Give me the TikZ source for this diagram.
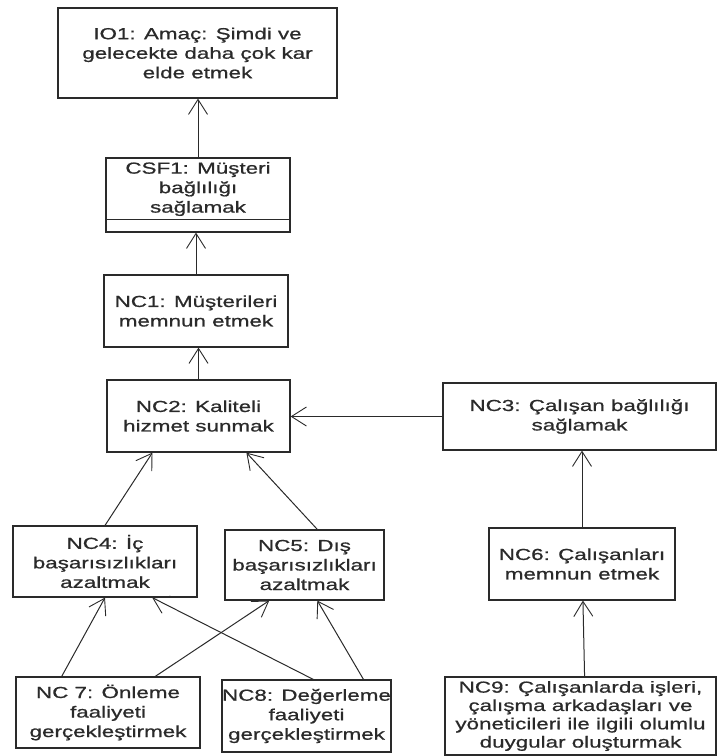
\documentclass[tikz,border=0pt]{standalone}
\usepackage{fontspec}
\setmainfont{Liberation Sans}[FakeStretch=1.4, FakeBold=0.8]
\usetikzlibrary{arrows.meta,positioning,calc}
\definecolor{ink}{HTML}{2A2A2A}
\tikzset{
  box/.style={draw=ink, line width=1.2pt, align=center, inner sep=0pt, text=ink,
    font=\fontsize{16}{19.5}\selectfont},
  arrow/.style={-{Straight Barb[length=15pt, width=19pt, line width=0.9pt]}, line width=1pt, draw=ink}
}

\begin{document}
\begin{tikzpicture}[x=1pt, y=-1pt]
  \useasboundingbox (0,0) rectangle (717,756);
  % top of the chain
  \node[box, minimum width=279, minimum height=90] (io1) at (197.5,53) {IO1: Amaç: Şimdi ve\\gelecekte daha çok kar\\elde etmek};
  \node[box, minimum width=184, minimum height=74] (csf1) at (198,195) {};
  \node[text=ink, align=center, font=\fontsize{16}{19.5}\selectfont] (csf1t) at (198,189) {CSF1: Müşteri\\bağlılığı\\sağlamak};
  \draw[ink, line width=1.2pt] ($(csf1.south west)+(0,-13)$) -- ($(csf1.south east)+(0,-13)$);
  \node[box, minimum width=184, minimum height=72] (nc1) at (196,311) {NC1: Müşterileri\\memnun etmek};
  \node[box, minimum width=183, minimum height=72] (nc2) at (198.5,416) {NC2: Kaliteli\\hizmet sunmak};
  \node[box, minimum width=273, minimum height=67] (nc3) at (579.5,416.5) {NC3: Çalışan bağlılığı\\sağlamak};
  % middle row
  \node[box, minimum width=184, minimum height=71] (nc4) at (105,561.5) {NC4: İç\\başarısızlıkları\\azaltmak};
  \node[box, minimum width=159, minimum height=70] (nc5) at (304.5,565) {NC5: Dış\\başarısızlıkları\\azaltmak};
  \node[box, minimum width=186, minimum height=72] (nc6) at (582,564) {NC6: Çalışanları\\memnun etmek};
  % bottom row
  \node[box, minimum width=184, minimum height=71] (nc7) at (108,712.5) {NC 7: Önleme\\faaliyeti\\gerçekleştirmek};
  \node[box, minimum width=167, minimum height=72] (nc8) at (306.5,716) {NC8: Değerleme\\faaliyeti\\gerçekleştirmek};
  \node[box, minimum width=271, minimum height=78, font=\fontsize{16}{18.3}\selectfont] (nc9) at (580.5,716) {NC9: Çalışanlarda işleri,\\çalışma arkadaşları ve\\yöneticileri ile ilgili olumlu\\duygular oluşturmak};

  \draw[arrow] (csf1.north) -- (csf1.north |- io1.south);
  \draw[arrow] (nc1.north) -- (nc1.north |- csf1.south);
  \draw[arrow] (nc2.north) -- (nc2.north |- nc1.south);
  \draw[arrow] (nc3.west) -- (nc3.west -| nc2.east);
  \draw[arrow] (nc4.north) -- ($(nc2.south west)!0.25!(nc2.south east)$);
  \draw[arrow] ($(nc5.north west)!0.58!(nc5.north east)$) -- ($(nc2.south west)!0.76!(nc2.south east)$);
  \draw[arrow] (nc6.north) -- (nc6.north |- nc3.south);
  \draw[arrow] ($(nc7.north west)!0.25!(nc7.north east)$) -- (nc4.south);
  \draw[arrow] ($(nc7.north west)!0.755!(nc7.north east)$) -- ($(nc5.south west)!0.28!(nc5.south east)$);
  \draw[arrow] ($(nc8.north west)!0.54!(nc8.north east)$) -- ($(nc4.south west)!0.755!(nc4.south east)$);
  \draw[arrow] ($(nc8.north west)!0.835!(nc8.north east)$) -- ($(nc5.south west)!0.58!(nc5.south east)$);
  \draw[arrow] ($(nc9.north west)!0.515!(nc9.north east)$) -- ($(nc6.south west)!0.505!(nc6.south east)$);
\end{tikzpicture}
\end{document}
